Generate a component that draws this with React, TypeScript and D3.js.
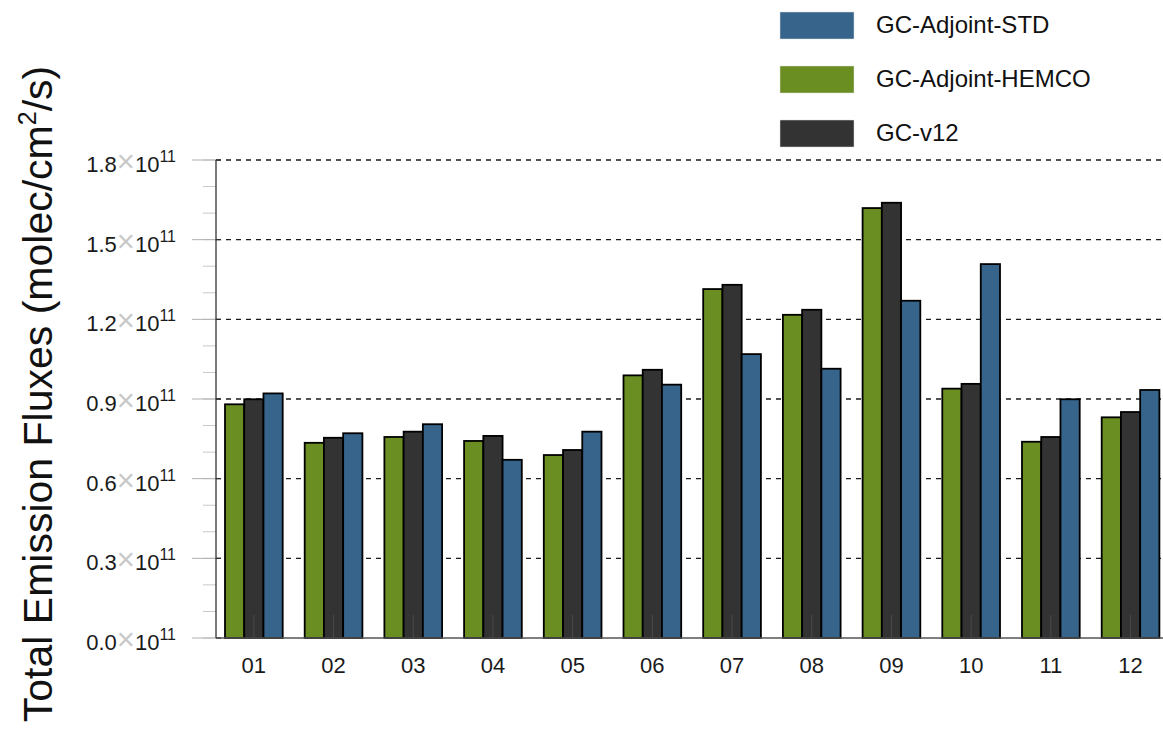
import * as d3 from "d3";
import {useEffect, useRef} from "react";

// months on the x axis
const months = ["01", "02", "03", "04", "05", "06", "07", "08", "09", "10", "11", "12"];

// values in units of 1e11 molec/cm2/s
const hemco = [0.880, 0.735, 0.757, 0.742, 0.689, 0.989, 1.314, 1.217, 1.619, 0.939, 0.739, 0.831];
const v12 = [0.899, 0.754, 0.777, 0.761, 0.708, 1.010, 1.330, 1.236, 1.639, 0.957, 0.757, 0.851];
const std = [0.921, 0.771, 0.805, 0.671, 0.777, 0.954, 1.069, 1.014, 1.270, 1.408, 0.899, 0.934];

const seriesNames = ["GC-Adjoint-HEMCO", "GC-v12", "GC-Adjoint-STD"];
const seriesColors = ["#6b8e23", "#333333", "#36648b"];
const legendOrder = ["GC-Adjoint-STD", "GC-Adjoint-HEMCO", "GC-v12"];

const majorTicks = [0, 0.3, 0.6, 0.9, 1.2, 1.5, 1.8];
const minorTicks = d3.range(0, 1.81, 0.1);

const App = () => {
    const ref = useRef<SVGSVGElement>(null);

    useEffect(() => {
        const svg = d3.select(ref.current);
        svg.selectAll("*").remove();

        const left = 216, top = 160, bottom = 638;
        const step = 79.7;

        const x = d3.scaleBand()
            .domain(months)
            .range([left - 2, left - 2 + step * months.length])
            .paddingInner(0.276)
            .paddingOuter(0.138);

        const xs = d3.scaleBand()
            .domain(seriesNames)
            .range([0, x.bandwidth()]);

        const y = d3.scaleLinear().domain([0, 1.8]).range([bottom, top]);

        const font = "'Liberation Sans', Arial, Helvetica, sans-serif";

        // minor ticks
        svg.append("g").selectAll("line")
            .data(minorTicks)
            .enter().append("line")
            .attr("x1", left - 13).attr("x2", left)
            .attr("y1", d => y(d)).attr("y2", d => y(d))
            .attr("stroke", "#c8c8c8").attr("stroke-width", 1);

        // major ticks
        svg.append("g").selectAll("line")
            .data(majorTicks)
            .enter().append("line")
            .attr("x1", left - 24).attr("x2", left)
            .attr("y1", d => y(d)).attr("y2", d => y(d))
            .attr("stroke", "#b0b0b0").attr("stroke-width", 1);

        // dashed grid
        svg.append("g").selectAll("line")
            .data(majorTicks.filter(d => d > 0))
            .enter().append("line")
            .attr("x1", left).attr("x2", 1163)
            .attr("y1", d => y(d)).attr("y2", d => y(d))
            .attr("stroke", "#1a1a1a").attr("stroke-width", 1.3)
            .attr("stroke-dasharray", "5,5");

        // bars
        const groups = svg.append("g").selectAll("g")
            .data(months)
            .enter().append("g")
            .attr("transform", d => `translate(${x(d)},0)`);

        const allSeries = [hemco, v12, std];
        groups.selectAll("rect")
            .data((m, i) => allSeries.map((s, k) => ({name: seriesNames[k], color: seriesColors[k], v: s[i]})))
            .enter().append("rect")
            .attr("x", d => xs(d.name))
            .attr("width", xs.bandwidth())
            .attr("y", d => y(d.v))
            .attr("height", d => bottom - y(d.v))
            .attr("fill", d => d.color)
            .attr("stroke", "#000")
            .attr("stroke-width", 1.8);

        // inward x ticks
        svg.append("g").selectAll("line")
            .data(months)
            .enter().append("line")
            .attr("x1", d => x(d) + x.bandwidth() / 2).attr("x2", d => x(d) + x.bandwidth() / 2)
            .attr("y1", bottom).attr("y2", bottom - 23)
            .attr("stroke", "#555").attr("stroke-width", 1).attr("opacity", 0.7);

        // axes lines
        svg.append("line")
            .attr("x1", left).attr("x2", left).attr("y1", top).attr("y2", bottom)
            .attr("stroke", "#333").attr("stroke-width", 1.3);
        svg.append("line")
            .attr("x1", left).attr("x2", 1163).attr("y1", bottom).attr("y2", bottom)
            .attr("stroke", "#555").attr("stroke-width", 1.3);

        // inner short ticks on y axis
        svg.append("g").selectAll("line")
            .data(majorTicks)
            .enter().append("line")
            .attr("x1", left).attr("x2", left + 5)
            .attr("y1", d => y(d)).attr("y2", d => y(d))
            .attr("stroke", "#333").attr("stroke-width", 1);

        // y tick labels
        const yl = svg.append("g").selectAll("text")
            .data(majorTicks)
            .enter().append("text")
            .attr("x", 176)
            .attr("y", d => y(d) + 12)
            .attr("text-anchor", "end")
            .attr("font-family", font)
            .attr("font-size", 22)
            .attr("fill", "#1a1a1a");
        yl.append("tspan").text(d => d.toFixed(1));
        yl.append("tspan").attr("fill", "#c8c8c8").attr("font-size", 31).text("\u00d7");
        yl.append("tspan").text("10");
        yl.append("tspan").attr("font-size", 16).attr("dy", -10).text("11");

        // x tick labels
        svg.append("g").selectAll("text")
            .data(months)
            .enter().append("text")
            .attr("x", d => x(d) + x.bandwidth() / 2)
            .attr("y", 673)
            .attr("text-anchor", "middle")
            .attr("font-family", font)
            .attr("font-size", 22)
            .attr("fill", "#1a1a1a")
            .text(d => d);

        // y title
        const title = svg.append("text")
            .attr("transform", "translate(52,394) rotate(-90)")
            .attr("text-anchor", "middle")
            .attr("font-family", font)
            .attr("font-size", 41)
            .attr("fill", "#111");
        title.append("tspan").text("Total Emission Fluxes (molec/cm");
        title.append("tspan").attr("font-size", 25).attr("dy", -16).text("2");
        title.append("tspan").attr("dy", 16).text("/s)");

        // legend
        const lg = svg.append("g").selectAll("g")
            .data(legendOrder)
            .enter().append("g")
            .attr("transform", (d, i) => `translate(780,${12 + i * 54})`);
        lg.append("rect")
            .attr("width", 74).attr("height", 27)
            .attr("fill", d => seriesColors[seriesNames.indexOf(d)])
            .attr("stroke", "#ddd").attr("stroke-width", 0.5);
        lg.append("text")
            .attr("x", 96).attr("y", 21)
            .attr("font-family", font)
            .attr("font-size", 24)
            .attr("fill", "#111")
            .text(d => d);
    }, []);

    return (
        <svg ref={ref} width={1163} height={729}
             style={{position: "absolute", left: 0, top: 0, background: "#fff"}}/>
    );
};

export default App;
